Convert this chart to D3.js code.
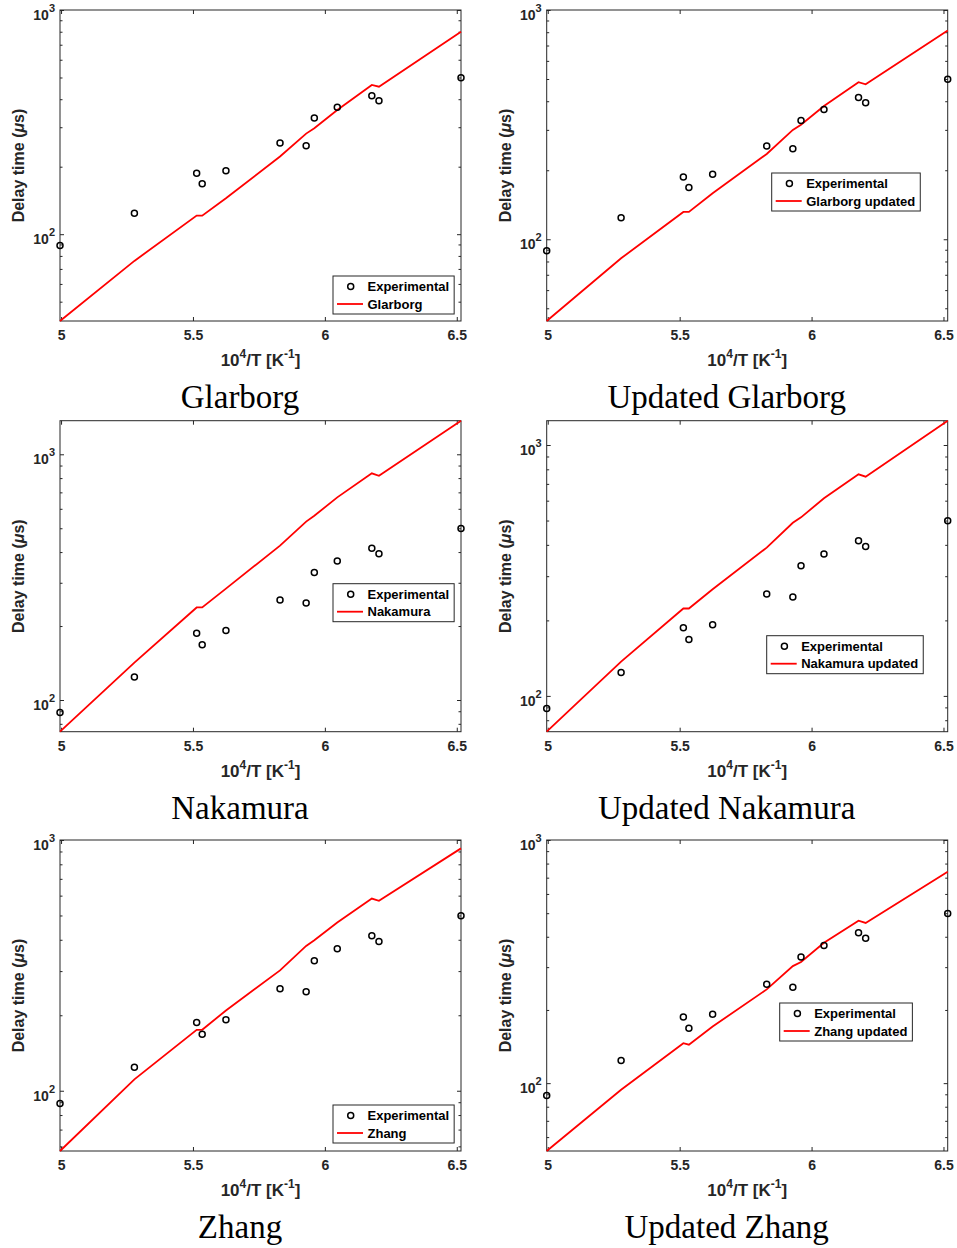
<!DOCTYPE html>
<html lang="en">
<head>
<meta charset="utf-8">
<script src="https://cdn.jsdelivr.net/npm/d3@7"></script>
<style>
body { margin:0; background:#fff; }
svg { display:block; }
.ax text { font-family:"Liberation Sans",Arial,sans-serif; font-weight:bold; font-size:14px; fill:#262626; }
.ax line { stroke:#262626; stroke-width:1; }
.ax path.domain { display:none; }
rect.box { fill:none; stroke:#262626; stroke-width:1; }
text.lbl { font-family:"Liberation Sans",Arial,sans-serif; font-weight:bold; font-size:16px; fill:#262626; }
.leg text { font-family:"Liberation Sans",Arial,sans-serif; font-weight:bold; font-size:13px; fill:#000; }
.leg rect { fill:#fff; stroke:#262626; stroke-width:1; }
text.title { font-family:"Liberation Serif","Times New Roman",serif; font-size:33px; fill:#000; }
path.model { fill:none; stroke:#ff0000; stroke-width:1.8; }
circle.exp { fill:none; stroke:#000; stroke-width:1.5; }
</style>

<script>
	// 10^4/T values of the shock tube points (model evaluated at the same points)
	var invT = [4.996, 5.278, 5.514, 5.535, 5.625, 5.830, 5.929, 5.960, 6.047, 6.178, 6.205, 6.516];
	var expDelay = [89, 124, 187, 168, 192, 255, 248, 330, 368, 415, 394, 499];

	var glarborg    = [41, 76, 121, 121, 144.6, 222, 281, 297, 358, 463, 455, 800];
	var glarborgUpd = [44, 82.6, 131.6, 131.6, 158.7, 235.5, 300, 316, 381, 484, 474, 813];
	var nakamura    = [74.3, 142, 238, 238, 284, 425, 532, 562, 668, 837, 818, 1370];
	var nakamuraUpd = [72, 137, 223, 223, 266, 390, 490, 515, 613, 764, 748, 1250];
	var zhang       = [57.5, 111, 175, 175, 209, 302, 378, 398, 469, 584, 572, 926];
	var zhangUpd    = [52.6, 94, 146, 144, 171, 243, 303, 315, 378, 466, 456, 740];

	var xTicks = [5, 5.5, 6, 6.5];
	var titles = ["Glarborg", "Updated Glarborg", "Nakamura", "Updated Nakamura", "Zhang", "Updated Zhang"];
	var legendNames = ["Glarborg", "Glarborg updated", "Nakamura", "Nakamura updated", "Zhang", "Zhang updated"];
	var models = [glarborg, glarborgUpd, nakamura, nakamuraUpd, zhang, zhangUpd];

	// layout
	var W = 957, H = 1248, pw = 401, ph = 311;
	var colX = [60, 546.7], rowY = [10, 420.7, 840];
	var legendAt = [[273,266],[225,163],[273,163],[220,215],[273,265],[233,163]];

	function doChart(){
		var svg = d3.select('#chart').attr('width', W).attr('height', H);
		for (var i = 0; i < 6; i++) {
			drawPanel(svg, i);
		}
	}

	function drawPanel(svg, i){
		var model = models[i];
		var g = svg.append('g')
			.attr('transform', 'translate(' + colX[i % 2] + ',' + rowY[Math.floor(i / 2)] + ')');

		var x = d3.scaleLinear().domain([invT[0], invT[invT.length - 1]]).range([0, pw]);
		var lo = model[0], hi = Math.max(d3.max(model), 1000);
		var y = d3.scaleLog().domain([lo, hi]).range([ph, 0]);

		// decade and minor ticks inside the domain
		var major = [], minor = [];
		for (var e = 1; e <= 3; e++) {
			for (var m = 1; m <= 9; m++) {
				var v = m * Math.pow(10, e);
				if (v < lo || v > hi) continue;
				if (m == 1) major.push(v); else minor.push(v);
			}
		}

		g.append('g').attr('class', 'ax')
			.call(d3.axisLeft(y).tickValues(minor).tickSize(-2.5).tickFormat(''));
		g.append('g').attr('class', 'ax').attr('transform', 'translate(' + pw + ',0)')
			.call(d3.axisRight(y).tickValues(minor).tickSize(-2.5).tickFormat(''));
		g.append('g').attr('class', 'ax').attr('transform', 'translate(' + pw + ',0)')
			.call(d3.axisRight(y).tickValues(major).tickSize(-4).tickFormat(''));

		var yl = g.append('g').attr('class', 'ax')
			.call(d3.axisLeft(y).tickValues(major).tickSize(-4).tickPadding(5));
		yl.selectAll('.tick text').each(function(d){
			var t = d3.select(this).text('').attr('dy', null).attr('y', 9.5);
			t.append('tspan').text('10');
			t.append('tspan').attr('dy', -8).style('font-size', '11px').text(Math.round(Math.log10(d)));
		});

		var xa = g.append('g').attr('class', 'ax').attr('transform', 'translate(0,' + ph + ')')
			.call(d3.axisBottom(x).tickValues(xTicks).tickSize(-4).tickFormat(d3.format('')));
		xa.selectAll('.tick text').attr('y', 19).attr('dy', null);
		g.append('g').attr('class', 'ax')
			.call(d3.axisTop(x).tickValues(xTicks).tickSize(-4).tickFormat(''));

		g.append('rect').attr('class', 'box').attr('width', pw).attr('height', ph);

		// model line and experimental points
		var line = d3.line().x(function(d, k){ return x(invT[k]); }).y(function(d){ return y(d); });
		g.append('path').attr('class', 'model').datum(model).attr('d', line);
		g.selectAll('circle.exp')
			.data(expDelay)
			.enter()
			.append('circle')
			.attr('class', 'exp')
			.attr('cx', function(d, k){ return x(invT[k]); })
			.attr('cy', function(d){ return y(d); })
			.attr('r', 3);

		// axis labels
		var xl = g.append('text').attr('class', 'lbl')
			.attr('x', pw / 2).attr('y', ph + 45).attr('text-anchor', 'middle')
			.style('font-size', '17px');
		xl.append('tspan').text('10');
		xl.append('tspan').attr('dy', -8).style('font-size', '12px').text('4');
		xl.append('tspan').attr('dy', 8).text('/T [K');
		xl.append('tspan').attr('dy', -8).style('font-size', '12px').text('-1');
		xl.append('tspan').attr('dy', 8).text(']');

		var ylab = g.append('text').attr('class', 'lbl')
			.attr('transform', 'translate(-36,' + (ph / 2) + ') rotate(-90)')
			.attr('text-anchor', 'middle');
		ylab.append('tspan').text('Delay time (');
		ylab.append('tspan').style('font-style', 'italic').text('\u03bc');
		ylab.append('tspan').text('s)');

		// legend
		var leg = g.append('g').attr('class', 'leg')
			.attr('transform', 'translate(' + legendAt[i][0] + ',' + legendAt[i][1] + ')');
		var box = leg.append('rect').attr('height', 38);
		leg.append('circle').attr('class', 'exp').attr('cx', 17.7).attr('cy', 10.5).attr('r', 3);
		leg.append('line').attr('x1', 4).attr('x2', 30).attr('y1', 28).attr('y2', 28)
			.style('stroke', '#ff0000').style('stroke-width', 1.8);
		var t1 = leg.append('text').attr('x', 34.5).attr('y', 10.5).attr('dy', '0.36em').text('Experimental');
		var t2 = leg.append('text').attr('x', 34.5).attr('y', 28).attr('dy', '0.36em').text(legendNames[i]);
		var tw = Math.max(t1.node().getComputedTextLength(), t2.node().getComputedTextLength());
		box.attr('width', 34.5 + tw + 5);

		// panel caption
		g.append('text').attr('class', 'title')
			.attr('x', 180).attr('y', ph + 87).attr('text-anchor', 'middle')
			.text(titles[i]);
	}
</script>
</head>
<body onload="doChart();">
	<svg id="chart"></svg>
</body>
</html>
